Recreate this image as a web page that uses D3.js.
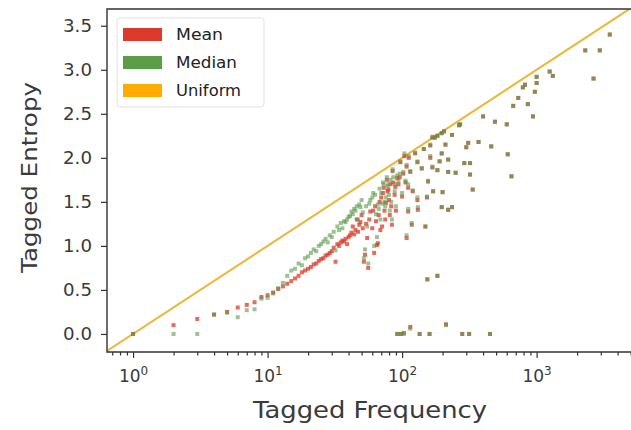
<!DOCTYPE html>
<html>
<head>
<meta charset="utf-8">
<script src="https://cdnjs.cloudflare.com/ajax/libs/d3/7.8.5/d3.min.js"></script>
<style>
  body { margin: 0; background: #fff; overflow: hidden; }
  text { font-family: "DejaVu Sans", sans-serif; fill: #3a3a3a; }
</style>
</head>
<body>
<div id="chart"></div>
<script>
// Tagged entropy vs tagged frequency

// frequency of each point (log x)
var freq = [1, 2, 3, 4, 5, 6, 7, 8, 9, 10,
  11, 12, 13, 14, 15, 16, 17, 18, 19, 20,
  21, 22, 23, 24, 25, 26, 27, 28, 29, 30,
  31, 32, 33, 34, 35, 36, 37, 38, 39, 40,
  41, 42, 43, 44, 45, 46, 47, 48, 49, 50,
  51, 52, 53, 54, 55, 56, 57, 58, 60, 61,
  62, 63, 65, 66, 68, 69, 70, 72, 74, 76,
  78, 79, 81, 82, 84, 86, 89, 92, 96, 100,
  104, 108, 108, 111, 111, 118, 130, 130, 131, 149,
  153, 154, 156, 162, 162, 168, 168, 175, 183, 183,
  183, 197, 197, 197, 200, 210, 220, 220, 220, 235,
  235, 250, 265, 270, 290, 300, 310, 320, 320, 335,
  370, 400, 460, 490, 600, 610, 650, 670, 730, 790,
  820, 860, 940, 970, 1000, 1000, 1250, 1320, 2300, 2650,
  2950, 3500,
  64, 67, 71, 73, 75, 77, 80, 83, 85, 88,
  90, 94, 97, 102, 106, 112, 115, 120, 125, 140,
  145, 170, 190, 205,
  92, 98, 103, 115, 135, 160, 212, 280, 315, 450];

// mean entropy per point
var meanH = [0.00, 0.10, 0.17, 0.22, 0.25, 0.30, 0.33, 0.36, 0.42, 0.44,
  0.47, 0.51, 0.54, 0.57, 0.60, 0.63, 0.66, 0.70, 0.72, 0.74,
  0.76, 0.79, 0.80, 0.83, 0.85, 0.86, 0.89, 0.90, 0.92, 0.94,
  0.98, 0.82, 1.02, 1.00, 1.04, 1.06, 1.05, 1.08, 1.02, 1.10,
  1.12, 1.15, 1.22, 1.13, 1.18, 1.30, 1.16, 1.24, 1.27, 1.35,
  1.20, 0.82, 0.90, 1.25, 1.09, 0.75, 1.30, 1.39, 1.20, 1.40,
  0.92, 1.45, 1.01, 1.03, 1.50, 1.18, 1.55, 1.60, 1.40, 1.49,
  1.62, 1.64, 1.35, 1.70, 1.24, 1.72, 1.67, 1.77, 1.78, 1.56,
  2.02, 1.09, 1.90, 1.66, 1.39, 1.24, 1.95, 1.52, 1.41, 1.22,
  1.55, 0.62, 1.73, 2.00, 2.14, 1.89, 2.23, 2.23, 1.86, 0.66,
  2.25, 2.05, 2.28, 1.44, 1.61, 2.15, 1.98, 1.84, 1.41, 2.26,
  1.44, 1.83, 2.37, 2.38, 1.94, 2.12, 2.17, 1.94, 1.81, 1.64,
  2.18, 2.47, 2.13, 2.41, 2.38, 2.04, 1.79, 2.59, 2.68, 2.80,
  2.83, 2.61, 2.47, 2.75, 2.85, 2.92, 2.98, 2.93, 3.22, 2.90,
  3.22, 3.40,
  1.28, 1.35, 1.22, 1.66, 1.30, 1.75, 1.52, 1.45, 1.85, 1.58,
  1.40, 1.70, 1.95, 1.82, 1.72, 2.00, 1.84, 1.62, 2.05, 1.88,
  2.10, 1.62, 1.96, 2.30,
  0.00, 0.00, 0.01, 0.08, 0.00, 0.00, 0.11, 0.00, 0.00, 0.00];

// median entropy per point
var medianH = [0.00, 0.00, 0.00, 0.22, 0.24, 0.19, 0.27, 0.28, 0.40, 0.41,
  0.46, 0.52, 0.58, 0.66, 0.72, 0.74, 0.80, 0.78, 0.86, 0.88,
  0.92, 0.96, 0.94, 1.00, 1.02, 1.05, 1.08, 1.04, 1.12, 1.10,
  1.16, 0.95, 1.22, 1.18, 1.26, 1.20, 1.28, 1.27, 1.30, 1.33,
  1.34, 1.39, 1.36, 1.42, 1.40, 1.45, 1.30, 1.47, 1.44, 1.52,
  1.38, 0.86, 0.96, 1.45, 1.22, 0.80, 1.48, 1.52, 1.55, 1.60,
  1.00, 1.58, 1.10, 1.47, 1.65, 1.30, 1.60, 1.72, 1.50, 1.55,
  1.68, 1.70, 1.40, 1.75, 1.30, 1.78, 1.70, 1.80, 1.82, 1.60,
  2.05, 1.12, 1.92, 1.70, 1.42, 1.26, 1.96, 1.55, 1.44, 1.22,
  1.56, 0.62, 1.74, 2.02, 2.15, 1.90, 2.24, 2.23, 1.86, 0.66,
  2.25, 2.05, 2.28, 1.44, 1.61, 2.15, 1.98, 1.84, 1.41, 2.26,
  1.44, 1.83, 2.37, 2.38, 1.94, 2.12, 2.17, 1.94, 1.81, 1.64,
  2.18, 2.47, 2.13, 2.41, 2.38, 2.04, 1.79, 2.59, 2.68, 2.80,
  2.83, 2.61, 2.47, 2.75, 2.85, 2.92, 2.98, 2.93, 3.22, 2.90,
  3.22, 3.40,
  1.36, 1.42, 1.48, 1.70, 1.45, 1.78, 1.58, 1.50, 1.87, 1.62,
  1.45, 1.74, 1.96, 1.84, 1.74, 2.02, 1.85, 1.63, 2.06, 1.88,
  2.10, 1.62, 1.96, 2.30,
  0.00, 0.00, 0.00, 0.06, 0.00, 0.00, 0.10, 0.00, 0.00, 0.00];

var xDomain = [0.64, 5870];
var yDomain = [-0.205, 3.69];
var yTicks = [0.0, 0.5, 1.0, 1.5, 2.0, 2.5, 3.0, 3.5];
var xTicks = [1, 10, 100, 1000];

var legendNames = ["Mean", "Median", "Uniform"];
var legendColors = ["#dc3b2c", "#5b9e4a", "#ffab00"];
var legendWidths = [47, 61, 65];

// SVG area (plot runs past the right edge, like the cropped original)
var svgWidth = 631;
var svgHeight = 430;
var margin = { top: 9, right: -9, bottom: 78, left: 107 };
var width = svgWidth - margin.left - margin.right;
var height = svgHeight - margin.top - margin.bottom;

var svg = d3.select("#chart")
  .append("svg")
  .attr("width", svgWidth)
  .attr("height", svgHeight);

var chartGroup = svg.append("g")
  .attr("transform", `translate(${margin.left},${margin.top})`);

var xScale = d3.scaleLog().domain(xDomain).range([0, width]);
var yScale = d3.scaleLinear().domain(yDomain).range([height, 0]);

chartGroup.append("clipPath").attr("id", "clip")
  .append("rect").attr("width", width).attr("height", height);

var plot = chartGroup.append("g").attr("clip-path", "url(#clip)");

// uniform line: entropy = log10(freq)
plot.append("line")
  .attr("x1", xScale(xDomain[0]))
  .attr("y1", yScale(Math.log10(xDomain[0])))
  .attr("x2", xScale(xDomain[1]))
  .attr("y2", yScale(Math.log10(xDomain[1])))
  .attr("stroke", "#ebb93a")
  .attr("stroke-width", 2);

var pts = freq.map((f, i) => ({ f: f, mean: meanH[i], median: medianH[i] }));

// mean points
plot.selectAll(".mean")
  .data(pts)
  .enter()
  .append("rect")
  .attr("class", "mean")
  .attr("x", d => xScale(d.f) - 2)
  .attr("y", d => yScale(d.mean) - 2)
  .attr("width", 4)
  .attr("height", 4)
  .attr("fill", "#d93a2b")
  .attr("opacity", 0.75);

// median points
plot.selectAll(".median")
  .data(pts)
  .enter()
  .append("rect")
  .attr("class", "median")
  .attr("x", d => xScale(d.f) - 2)
  .attr("y", d => yScale(d.median) - 2)
  .attr("width", 4)
  .attr("height", 4)
  .attr("fill", "#5a9a4a")
  .attr("opacity", 0.6);

// x axis (log, with minor ticks)
var minorTicks = xScale.ticks().filter(t => xTicks.indexOf(t) < 0);
var xAxisMinor = d3.axisBottom(xScale).tickValues(minorTicks)
  .tickSize(3.5).tickFormat("");
var xAxisMajor = d3.axisBottom(xScale).tickValues(xTicks)
  .tickSize(6).tickFormat("");

chartGroup.append("g")
  .attr("transform", `translate(0, ${height})`)
  .call(xAxisMinor);
var xAxis = chartGroup.append("g")
  .attr("transform", `translate(0, ${height})`)
  .call(xAxisMajor);

xAxis.selectAll(".tick").append("text")
  .attr("y", 30)
  .attr("text-anchor", "middle")
  .style("font-size", "17px")
  .each(function(d) {
    var t = d3.select(this);
    t.append("tspan").text("10");
    t.append("tspan").attr("dy", -7).style("font-size", "12px")
      .text(Math.round(Math.log10(d)));
  });

// y axis
var yAxis = chartGroup.append("g")
  .call(d3.axisLeft(yScale).tickValues(yTicks).tickSize(6).tickPadding(9)
    .tickFormat(d3.format(".1f")));
yAxis.selectAll("text")
  .style("font-size", "17px")
  .style("fill", "#3a3a3a")
  .attr("textLength", 29)
  .attr("lengthAdjust", "spacingAndGlyphs");

chartGroup.selectAll(".domain").remove();
chartGroup.selectAll(".tick line").attr("stroke", "#333").attr("stroke-width", 1.2);

// frame: left, bottom, top
var spine = d3.path();
spine.moveTo(width, 0);
spine.lineTo(0, 0);
spine.lineTo(0, height);
spine.lineTo(width, height);
chartGroup.append("path")
  .attr("d", spine.toString())
  .attr("fill", "none")
  .attr("stroke", "#333")
  .attr("stroke-width", 1.4);

// legend
var legend = chartGroup.append("g").attr("transform", "translate(10, 9)");
legend.append("rect")
  .attr("width", 147).attr("height", 89)
  .attr("rx", 3)
  .attr("fill", "#fff").attr("opacity", 0.85)
  .attr("stroke", "#ddd");
legendNames.forEach((name, i) => {
  legend.append("rect")
    .attr("x", 6).attr("y", 10 + i * 28)
    .attr("width", 39).attr("height", 13)
    .attr("fill", legendColors[i]);
  legend.append("text")
    .attr("x", 59).attr("y", 22 + i * 28)
    .attr("textLength", legendWidths[i])
    .attr("lengthAdjust", "spacingAndGlyphs")
    .style("font-size", "15.5px")
    .style("fill", "#222")
    .text(name);
});

// axis labels
svg.append("text")
  .attr("x", 253)
  .attr("y", 418)
  .attr("textLength", 234)
  .attr("lengthAdjust", "spacingAndGlyphs")
  .style("font-size", "23px")
  .text("Tagged Frequency");

svg.append("text")
  .attr("transform", "translate(37, 273) rotate(-90)")
  .attr("textLength", 191)
  .attr("lengthAdjust", "spacingAndGlyphs")
  .style("font-size", "22px")
  .text("Tagged Entropy");
</script>
</body>
</html>
